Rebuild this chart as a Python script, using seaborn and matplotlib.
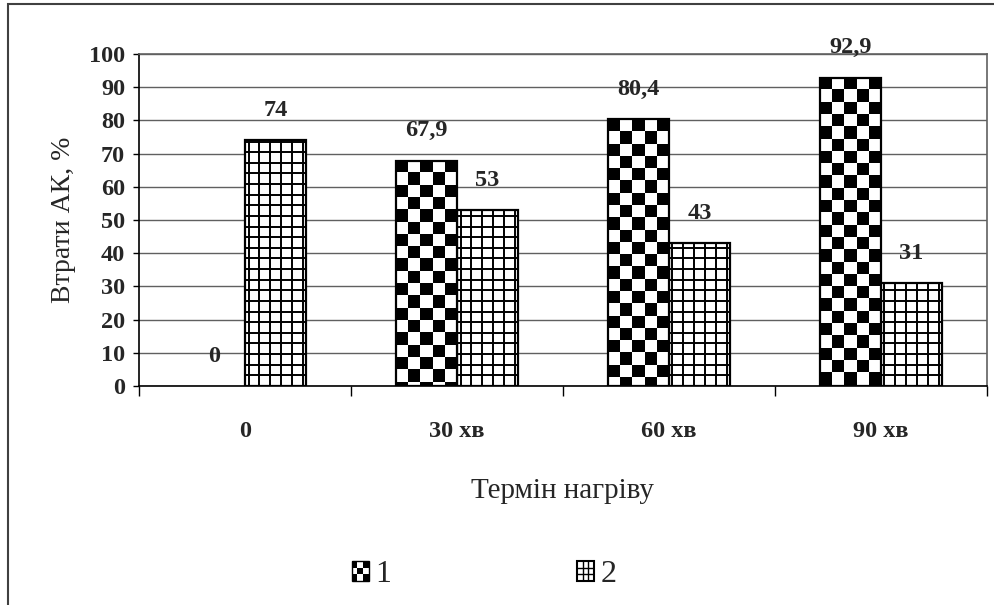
import numpy as np
import pandas as pd
import matplotlib
matplotlib.use('Agg')
import matplotlib.pyplot as plt
import seaborn as sns
from matplotlib.patches import Rectangle, Patch
from matplotlib.collections import LineCollection
from matplotlib.legend_handler import HandlerBase

# data
terms = ['0', '30 хв', '60 хв', '90 хв']
series_1 = [0, 67.9, 80.4, 92.9]
series_2 = [74, 53, 43, 31]
series_names = ['1', '2']

df = pd.DataFrame({
    'term': terms * 2,
    'value': series_1 + series_2,
    'series': [series_names[0]] * len(terms) + [series_names[1]] * len(terms),
})

sns.set_theme(style='white')
plt.rcParams['font.family'] = ['Liberation Serif', 'DejaVu Serif']

fig = plt.figure(figsize=(9.94, 6.05), dpi=100)
ax = fig.add_axes([0.1398, 0.362, 0.853, 0.5488])

sns.barplot(data=df, x='term', y='value', hue='series', order=terms,
            hue_order=series_names, palette=['white', 'white'], saturation=1,
            edgecolor='black', linewidth=1.6, width=0.575, legend=False, ax=ax)

# checkerboard fill for series 1
sq = 3.7
for p in ax.containers[0]:
    h = p.get_height()
    x0 = p.get_x()
    x1 = x0 + p.get_width()
    p.set_facecolor('none')
    p.set_zorder(3)
    if h <= 0:
        p.set_visible(False)
        continue
    n_rows = int(np.ceil(h / sq))
    checker = (np.add.outer(np.arange(n_rows), np.arange(5)) + 1) % 2
    im = ax.imshow(checker, cmap='Greys', vmin=0, vmax=1, origin='upper',
                   interpolation='nearest', aspect='auto',
                   extent=(x0, x1, h - n_rows * sq, h), zorder=2)
    im.set_clip_path(p)

# square grid fill for series 2
dx, dy = 0.051, 3.2
for p in ax.containers[1]:
    h = p.get_height()
    x0 = p.get_x()
    x1 = x0 + p.get_width()
    p.set_zorder(1.8)
    segs = [[(x, 0), (x, h)] for x in np.arange(x0 + 0.017, x1, dx)]
    segs += [[(x0, y), (x1, y)] for y in np.arange(dy, h, dy)]
    lc = LineCollection(segs, colors='black', linewidths=1.4, zorder=2)
    lc.set_clip_path(p)
    ax.add_collection(lc)

# value labels
for cont, vals in zip(ax.containers, [series_1, series_2]):
    ax.bar_label(cont, labels=[f'{v:g}'.replace('.', ',') for v in vals],
                 padding=14, fontsize=17.5, fontweight='bold')

ax.set_xlim(-0.5, len(terms) - 0.5)
ax.set_ylim(0, 100)
ax.set_yticks(np.arange(0, 101, 10))
ax.set_axisbelow(True)
ax.yaxis.grid(True, color='#606060', linewidth=1.0)
ax.xaxis.grid(False)

for side in ['top', 'right']:
    ax.spines[side].set_color('#606060')
    ax.spines[side].set_linewidth(1.2)
for side in ['left', 'bottom']:
    ax.spines[side].set_color('black')
    ax.spines[side].set_linewidth(1.2)

ax.set_xticks(np.arange(-0.5, len(terms), 1), minor=True)
ax.tick_params(axis='x', which='minor', direction='out', length=7, width=1, color='black', bottom=True)
ax.tick_params(axis='x', which='major', length=0, pad=25, labelsize=17.5)
ax.tick_params(axis='y', direction='out', length=4, width=1, color='black', left=True, pad=6, labelsize=17.5)
for lab in ax.get_xticklabels() + ax.get_yticklabels():
    lab.set_fontweight('bold')

ax.set_xlabel('Термін нагріву', fontsize=21, labelpad=26)
ax.set_ylabel('Втрати АК, %', fontsize=20, labelpad=9)


class CheckerHandler(HandlerBase):
    def create_artists(self, legend, orig_handle, xdescent, ydescent, width, height, fontsize, trans):
        arts = [Rectangle((-xdescent, -ydescent), width, height, fc='white', ec='black', lw=1, transform=trans)]
        cw, ch = width / 3, height / 3
        for i in range(3):
            for j in range(3):
                if (i + j) % 2 == 0:
                    arts.append(Rectangle((-xdescent + i * cw, -ydescent + j * ch), cw, ch,
                                          fc='black', ec='none', transform=trans))
        return arts


class GridHandler(HandlerBase):
    def create_artists(self, legend, orig_handle, xdescent, ydescent, width, height, fontsize, trans):
        arts = [Rectangle((-xdescent, -ydescent), width, height, fc='white', ec='black', lw=1.5, transform=trans)]
        segs = []
        for k in (1, 2):
            segs.append([(-xdescent + k * width / 3, -ydescent), (-xdescent + k * width / 3, -ydescent + height)])
            segs.append([(-xdescent, -ydescent + k * height / 3), (-xdescent + width, -ydescent + k * height / 3)])
        arts.append(LineCollection(segs, colors='black', linewidths=1, transform=trans))
        return arts


h1, h2 = Patch(label=series_names[0]), Patch(label=series_names[1])
fig.legend(handles=[h1, h2], labels=series_names, loc='center', bbox_to_anchor=(0.487, 0.05),
           ncol=2, frameon=False, fontsize=23, handlelength=0.55, handleheight=0.55,
           handletextpad=0.2, columnspacing=5.8,
           handler_map={h1: CheckerHandler(), h2: GridHandler()})

# outer chart frame
fig.patches.append(Rectangle((8 / 994, -0.02), 1.0, 1.02 - 4 / 605, transform=fig.transFigure,
                             fill=False, ec='#404040', lw=1.5))

fig.savefig('out.png', dpi=100)
